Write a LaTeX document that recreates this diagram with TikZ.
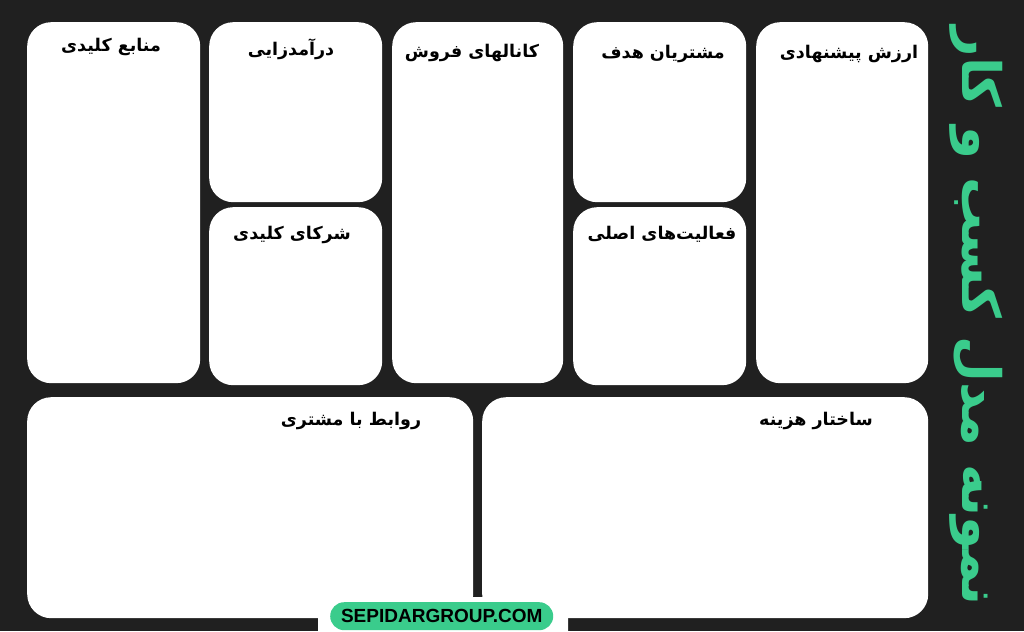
\documentclass[tikz,border=0pt]{standalone}
\usepackage{fontspec}
\setsansfont{Liberation Sans}
\newfontfamily\arabicfont[Script=Arabic]{DejaVu Sans}
\TeXXeTstate=1
\usetikzlibrary{positioning}

\definecolor{bgdark}{RGB}{32,32,32}
\definecolor{mintgreen}{RGB}{58,204,140}

\tikzset{
  card/.style={fill=white, rounded corners=24pt, inner sep=0pt, anchor=north west},
  cardtitle/.style={font=\arabicfont\bfseries\fontsize{17.5}{20}\selectfont, text=black, inner sep=0pt},
}

\begin{document}
\begin{tikzpicture}[x=1pt,y=-1pt]
\fill [bgdark] (0,0) rectangle (1024,631);
\useasboundingbox (0,0) rectangle (1024,631);
\clip (0,0) rectangle (1024,631);
% top row
\node [card, minimum width=173pt, minimum height=361pt] (resources) at (27,22) {};
\node [card, minimum width=173pt, minimum height=180pt] (revenue) at (209,22) {};
\node [card, minimum width=173pt, minimum height=178pt] (partners) at (209,207) {};
\node [card, minimum width=171pt, minimum height=361pt] (channels) at (392,22) {};
\node [card, minimum width=173pt, minimum height=180pt] (segments) at (573,22) {};
\node [card, minimum width=173pt, minimum height=178pt] (activities) at (573,207) {};
\node [card, minimum width=172pt, minimum height=361pt] (value) at (756,22) {};
% bottom row
\node [card, minimum width=446pt, minimum height=221pt] (relations) at (27,397) {};
\node [card, minimum width=446pt, minimum height=221pt] (costs) at (482,397) {};
% titles
\node [cardtitle] (resourcesT) at (111,47) {\beginR منابع کلیدی\endR};
\node [cardtitle] (revenueT) at (291,49) {\beginR درآمدزایی\endR};
\node [cardtitle] (partnersT) at (292,235) {\beginR شرکای کلیدی\endR};
\node [cardtitle] (channelsT) at (472,53) {\beginR کانالهای فروش\endR};
\node [cardtitle] (segmentsT) at (663,54) {\beginR مشتریان هدف\endR};
\node [cardtitle] (activitiesT) at (662,234) {\beginR فعالیت‌های اصلی\endR};
\node [cardtitle] (valueT) at (849,54) {\beginR ارزش پیشنهادی\endR};
\node [cardtitle] (relationsT) at (351,421) {\beginR روابط با مشتری\endR};
\node [cardtitle] (costsT) at (816,421) {\beginR ساختار هزینه\endR};
% side title
\node [font=\arabicfont\bfseries\fontsize{53}{58}\selectfont, text=mintgreen, rotate=-90] (sidetitle) at (976,316) {\beginR نمونه مدل کسب و کار\endR};
% footer badge
\node [fill=white, rounded corners=12pt, minimum width=250pt, minimum height=50pt, anchor=north west, inner sep=0pt] (badge) at (318,597) {};
\node [fill=mintgreen, rounded corners=14pt, minimum width=223pt, minimum height=28pt, anchor=north west, inner sep=0pt] (badgepill) at (330,602) {};
\node [font=\sffamily\bfseries\fontsize{19}{22}\selectfont, text=black] (badgeT) at (badgepill.center) {SEPIDARGROUP.COM};
\end{tikzpicture}
\end{document}
